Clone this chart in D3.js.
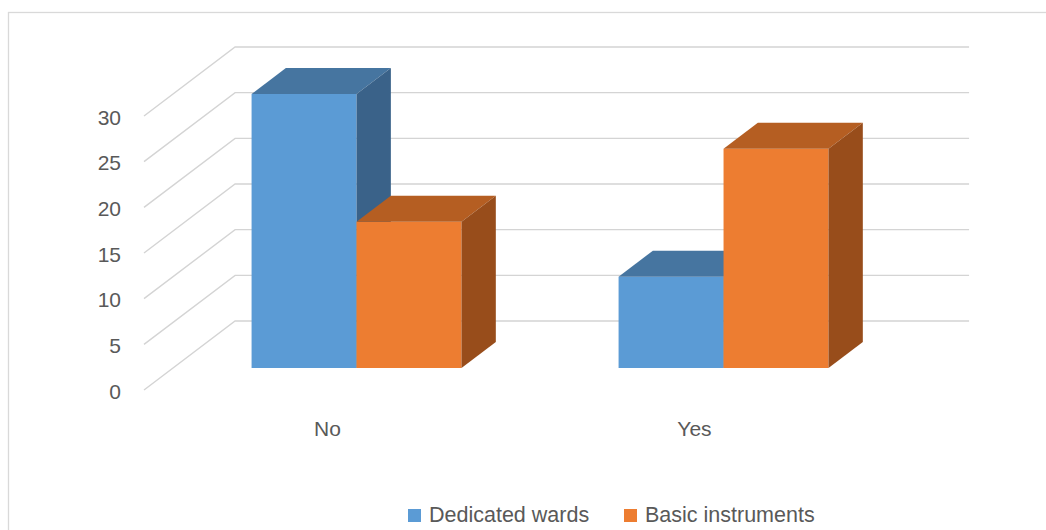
<!DOCTYPE html>
<html>
<head>
<meta charset="utf-8">
<script src="https://cdn.jsdelivr.net/npm/d3@7"></script>
<style>
  html, body { margin: 0; padding: 0; background: #fff; }
  svg { display: block; }
  text { font-family: "Liberation Sans", Arial, sans-serif; fill: #595959; }
</style>
</head>
<body>
<svg id="chart" width="1046" height="530"></svg>
<script>
const categories = ["No", "Yes"];
const seriesNames = ["Dedicated wards", "Basic instruments"];
const dedicatedWards = [30, 10];
const basicInstruments = [16, 24];
const yTicks = [0, 5, 10, 15, 20, 25, 30];

const seriesValues = [dedicatedWards, basicInstruments];
const colors = [
  { front: "#5B9BD5", top: "#4675A0", side: "#3A6289" },
  { front: "#ED7D31", top: "#B55E22", side: "#984D1B" }
];

const svg = d3.select("#chart");

// frame
svg.append("rect").attr("x", 8.5).attr("y", 12.5).attr("width", 1100).attr("height", 600)
  .attr("fill", "none").attr("stroke", "#d9d9d9").attr("stroke-width", 1.3);

const y = d3.scaleLinear().domain([0, 30]).range([390, 116]);
const x = d3.scaleBand().domain(categories).range([144, 878]).paddingInner(0.428).paddingOuter(0.214);
const xs = d3.scaleBand().domain(seriesNames).range([0, x.bandwidth()]);

const K = 1.32;      // horizontal shift per unit depth
const WALL = 69;     // wall depth
const Z0 = 22;       // bar front depth
const BD = 26;       // bar depth

const proj = (px, v, z) => [px + z * K, y(v) - z];
const line = d3.line();

// gridlines: left wall diagonals + back wall
const grid = svg.append("g").attr("stroke", "#d4d4d4").attr("stroke-width", 1.4).attr("fill", "none");
yTicks.forEach(v => {
  grid.append("path").attr("d", line([proj(144, v, 0), proj(144, v, WALL), proj(878, v, WALL)]));
});

// y tick labels
svg.append("g").selectAll("text").data(yTicks).join("text")
  .attr("x", 121).attr("y", d => y(d) + 1)
  .attr("text-anchor", "end").attr("dominant-baseline", "central")
  .attr("font-size", 21).text(d => d);

// bars
const bars = svg.append("g");
categories.forEach((c, ci) => {
  seriesNames.forEach((s, si) => {
    const v = seriesValues[si][ci];
    const x0 = x(c) + xs(s), x1 = x0 + xs.bandwidth();
    const col = colors[si];
    bars.append("path").attr("fill", col.front)
      .attr("d", line([proj(x0, 0, Z0), proj(x1, 0, Z0), proj(x1, v, Z0), proj(x0, v, Z0)]) + "Z");
    bars.append("path").attr("fill", col.top)
      .attr("d", line([proj(x0, v, Z0), proj(x1, v, Z0), proj(x1, v, Z0 + BD), proj(x0, v, Z0 + BD)]) + "Z");
    bars.append("path").attr("fill", col.side)
      .attr("d", line([proj(x1, 0, Z0), proj(x1, v, Z0), proj(x1, v, Z0 + BD), proj(x1, 0, Z0 + BD)]) + "Z");
  });
});

// category labels
svg.append("g").selectAll("text").data(categories).join("text")
  .attr("x", d => x(d) + x.bandwidth() / 2).attr("y", 436)
  .attr("text-anchor", "middle").attr("font-size", 21).text(d => d);

// legend
const legendX = [408, 624];
const lg = svg.append("g");
seriesNames.forEach((s, i) => {
  lg.append("rect").attr("x", legendX[i]).attr("y", 509).attr("width", 13).attr("height", 13).attr("fill", colors[i].front);
  lg.append("text").attr("x", legendX[i] + 21).attr("y", 522).attr("font-size", 21.5).text(s);
});
</script>
</body>
</html>
